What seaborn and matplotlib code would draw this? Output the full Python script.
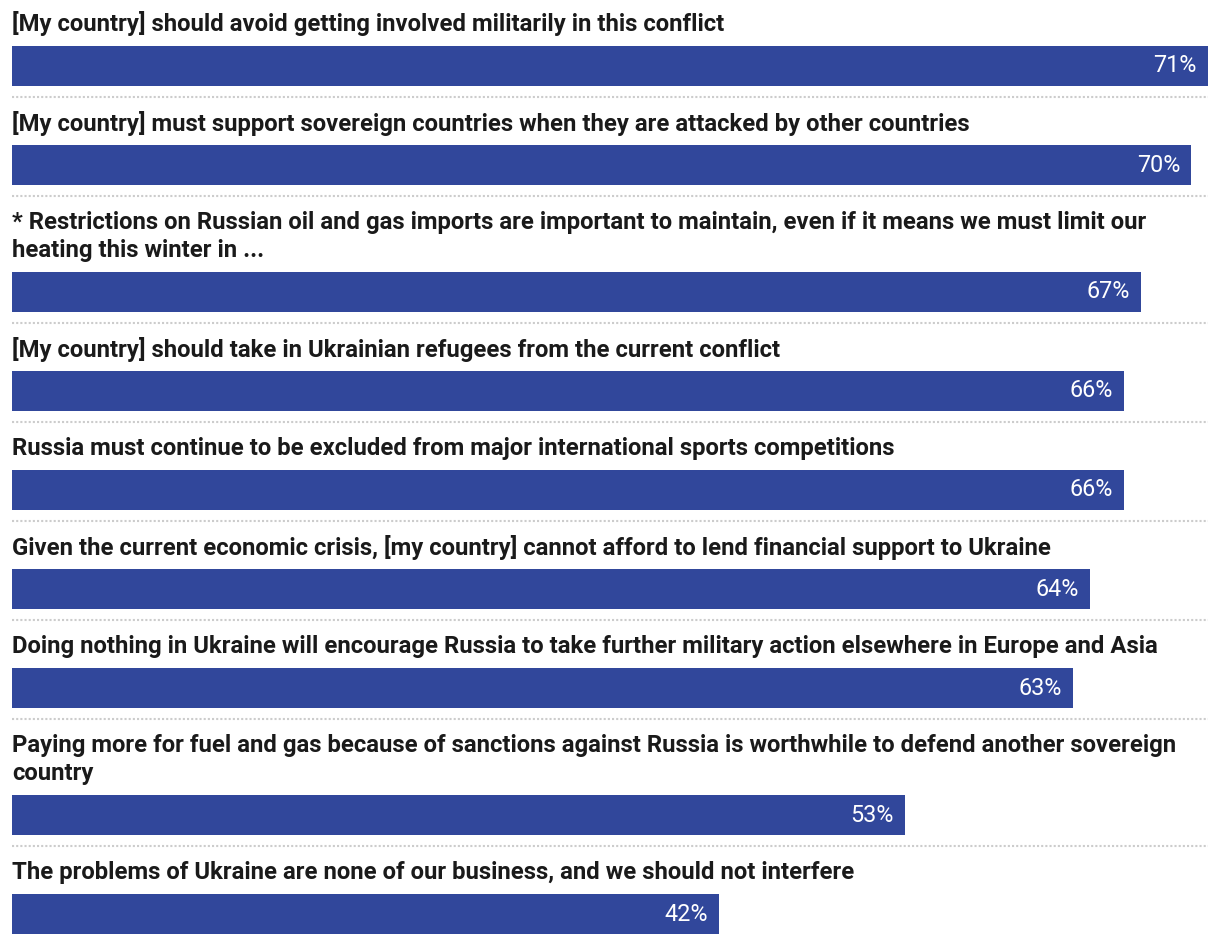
import matplotlib
matplotlib.use("Agg")
import matplotlib.pyplot as plt
from matplotlib.lines import Line2D
import seaborn as sns

statements = [
    "[My country] should avoid getting involved militarily in this conflict",
    "[My country] must support sovereign countries when they are attacked by other countries",
    "* Restrictions on Russian oil and gas imports are important to maintain, even if it means we must limit our\nheating this winter in ...",
    "[My country] should take in Ukrainian refugees from the current conflict",
    "Russia must continue to be excluded from major international sports competitions",
    "Given the current economic crisis, [my country] cannot afford to lend financial support to Ukraine",
    "Doing nothing in Ukraine will encourage Russia to take further military action elsewhere in Europe and Asia",
    "Paying more for fuel and gas because of sanctions against Russia is worthwhile to defend another sovereign\ncountry",
    "The problems of Ukraine are none of our business, and we should not interfere",
]
agree_pct = [71, 70, 67, 66, 66, 64, 63, 53, 42]

BAR_COLOR = "#31479b"
W, H = 1220, 946
LEFT, RIGHT = 12, 1208

sns.set_theme(style="white")
plt.rcParams["font.family"] = ["Roboto", "DejaVu Sans"]

fig = plt.figure(figsize=(W / 100, H / 100), dpi=100)
xmax = max(agree_pct)

def fx(px):
    return px / W

def fy(py):
    return 1 - py / H

y0 = 0
for i, (label, val) in enumerate(zip(statements, agree_pct)):
    lines = label.split("\n")
    for j, ln in enumerate(lines):
        fig.text(fx(LEFT), fy(y0 + 24 + 28 * j), ln, ha="left", va="center",
                 fontsize=17.2, fontweight="bold", color="#1a1a1a")
    bar_top = y0 + 46 + 28 * (len(lines) - 1)
    bar_h = 40
    ax = fig.add_axes([fx(LEFT), fy(bar_top + bar_h), fx(RIGHT - LEFT), bar_h / H])
    sns.barplot(x=[val], y=["r"], orient="h", color=BAR_COLOR, width=1.0,
                saturation=1, linewidth=0, ax=ax)
    ax.set_xlim(0, xmax)
    ax.set_ylim(0.5, -0.5)
    ax.axis("off")
    ax.annotate(f"{val}%", xy=(val, 0), xytext=(-8, 0), textcoords="offset points",
                ha="right", va="center", color="white", fontsize=16.8)
    sep = bar_top + bar_h + 11
    if i < len(statements) - 1:
        fig.add_artist(Line2D([fx(LEFT), fx(RIGHT)], [fy(sep), fy(sep)],
                              transform=fig.transFigure, color="#cccccc",
                              linewidth=1.5, linestyle=(0, (1, 1))))
    y0 = sep + 2

fig.savefig("out.png", dpi=100)
